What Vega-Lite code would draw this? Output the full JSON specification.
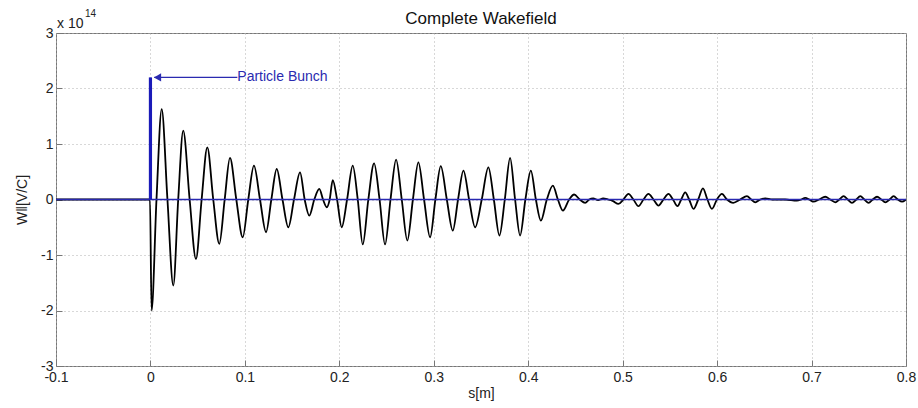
{
  "$schema": "https://vega.github.io/schema/vega-lite/v6.json",
  "autosize": {"type": "none"},
  "padding": {"left": 56, "top": 33, "right": 12, "bottom": 42},
  "width": 850,
  "height": 333,
  "background": "white",
  "config": {
    "font": "Liberation Sans",
    "view": {"stroke": "#777", "strokeWidth": 1},
    "axis": {
      "labelFont": "Liberation Sans",
      "titleFont": "Liberation Sans",
      "labelFontSize": 14,
      "titleFontSize": 14,
      "labelColor": "#222",
      "titleColor": "#222",
      "titleFontWeight": "normal",
      "domain": false,
      "tickColor": "#777",
      "tickSize": -6,
      "gridColor": "#b0b0b0",
      "gridDash": [1, 3],
      "gridWidth": 1,
      "labelOverlap": false,
      "labelBound": false,
      "labelFlush": false
    }
  },
  "title": {
    "text": "Complete Wakefield",
    "frame": "group",
    "anchor": "middle",
    "baseline": "alphabetic",
    "offset": 0,
    "dy": 32,
    "fontSize": 17,
    "fontWeight": "normal",
    "font": "Liberation Sans",
    "color": "#111"
  },
  "datasets": {
    "wake": [
      {"s": -0.1, "w": 0}, {"s": -0.0005, "w": 0}, {"s": 0.0012, "w": -2.0}, {"s": 0.0064, "w": 0},
      {"s": 0.0119, "w": 1.63}, {"s": 0.018, "w": 0}, {"s": 0.0242, "w": -1.55}, {"s": 0.0294, "w": 0},
      {"s": 0.0347, "w": 1.24}, {"s": 0.0415, "w": 0}, {"s": 0.0482, "w": -1.07}, {"s": 0.0542, "w": 0},
      {"s": 0.0602, "w": 0.94}, {"s": 0.0665, "w": 0}, {"s": 0.0729, "w": -0.8}, {"s": 0.0786, "w": 0},
      {"s": 0.0842, "w": 0.75}, {"s": 0.0909, "w": 0}, {"s": 0.0977, "w": -0.68}, {"s": 0.1036, "w": 0},
      {"s": 0.1096, "w": 0.61}, {"s": 0.116, "w": 0}, {"s": 0.1224, "w": -0.59}, {"s": 0.128, "w": 0},
      {"s": 0.1337, "w": 0.55}, {"s": 0.1398, "w": 0}, {"s": 0.146, "w": -0.5}, {"s": 0.152, "w": 0},
      {"s": 0.1584, "w": 0.49}, {"s": 0.1633, "w": 0}, {"s": 0.1682, "w": -0.29}, {"s": 0.1735, "w": 0},
      {"s": 0.1788, "w": 0.19}, {"s": 0.1827, "w": 0}, {"s": 0.1867, "w": -0.14}, {"s": 0.1898, "w": 0},
      {"s": 0.193, "w": 0.35}, {"s": 0.1976, "w": 0}, {"s": 0.2025, "w": -0.5}, {"s": 0.2082, "w": 0},
      {"s": 0.2142, "w": 0.61}, {"s": 0.2195, "w": 0}, {"s": 0.2248, "w": -0.81}, {"s": 0.2307, "w": 0},
      {"s": 0.2368, "w": 0.65}, {"s": 0.2426, "w": 0}, {"s": 0.2484, "w": -0.81}, {"s": 0.2542, "w": 0},
      {"s": 0.2601, "w": 0.72}, {"s": 0.2661, "w": 0}, {"s": 0.272, "w": -0.74}, {"s": 0.2779, "w": 0},
      {"s": 0.2837, "w": 0.67}, {"s": 0.2897, "w": 0}, {"s": 0.2961, "w": -0.68}, {"s": 0.3017, "w": 0},
      {"s": 0.3074, "w": 0.6}, {"s": 0.3138, "w": 0}, {"s": 0.3201, "w": -0.56}, {"s": 0.3257, "w": 0},
      {"s": 0.3314, "w": 0.52}, {"s": 0.3374, "w": 0}, {"s": 0.3438, "w": -0.5}, {"s": 0.3508, "w": 0},
      {"s": 0.3578, "w": 0.58}, {"s": 0.3636, "w": 0}, {"s": 0.3695, "w": -0.65}, {"s": 0.3752, "w": 0},
      {"s": 0.3808, "w": 0.75}, {"s": 0.3861, "w": 0}, {"s": 0.3914, "w": -0.65}, {"s": 0.397, "w": 0},
      {"s": 0.4028, "w": 0.52}, {"s": 0.4081, "w": 0}, {"s": 0.4134, "w": -0.38}, {"s": 0.4197, "w": 0},
      {"s": 0.4261, "w": 0.25}, {"s": 0.4314, "w": 0}, {"s": 0.4367, "w": -0.2}, {"s": 0.4433, "w": 0},
      {"s": 0.4486, "w": 0.09}, {"s": 0.4545, "w": 0}, {"s": 0.4603, "w": -0.06}, {"s": 0.4645, "w": 0},
      {"s": 0.4688, "w": 0.02}, {"s": 0.474, "w": -0.01}, {"s": 0.4793, "w": 0.02}, {"s": 0.4846, "w": 0},
      {"s": 0.4899, "w": -0.03}, {"s": 0.4955, "w": -0.08}, {"s": 0.5008, "w": 0}, {"s": 0.5061, "w": 0.1},
      {"s": 0.5114, "w": 0}, {"s": 0.5167, "w": -0.12}, {"s": 0.522, "w": 0}, {"s": 0.5273, "w": 0.1},
      {"s": 0.5326, "w": 0}, {"s": 0.5379, "w": -0.11}, {"s": 0.5432, "w": 0}, {"s": 0.5485, "w": 0.1},
      {"s": 0.5533, "w": 0}, {"s": 0.5581, "w": -0.12}, {"s": 0.562, "w": 0}, {"s": 0.5662, "w": 0.13},
      {"s": 0.5704, "w": 0}, {"s": 0.575, "w": -0.17}, {"s": 0.58, "w": 0}, {"s": 0.585, "w": 0.2},
      {"s": 0.5897, "w": 0}, {"s": 0.5945, "w": -0.17}, {"s": 0.5998, "w": 0}, {"s": 0.6051, "w": 0.1},
      {"s": 0.6104, "w": 0}, {"s": 0.6171, "w": -0.06}, {"s": 0.6245, "w": 0}, {"s": 0.6316, "w": 0.06},
      {"s": 0.6361, "w": 0}, {"s": 0.6404, "w": -0.05}, {"s": 0.6457, "w": 0}, {"s": 0.651, "w": 0.02},
      {"s": 0.6584, "w": 0}, {"s": 0.6721, "w": 0}, {"s": 0.6845, "w": -0.02}, {"s": 0.6891, "w": 0},
      {"s": 0.6933, "w": 0.03}, {"s": 0.6976, "w": 0}, {"s": 0.7018, "w": -0.04}, {"s": 0.7082, "w": 0},
      {"s": 0.7145, "w": 0.05}, {"s": 0.7198, "w": 0}, {"s": 0.7251, "w": -0.05}, {"s": 0.7294, "w": 0},
      {"s": 0.7339, "w": 0.06}, {"s": 0.7383, "w": 0}, {"s": 0.7428, "w": -0.06}, {"s": 0.7474, "w": 0},
      {"s": 0.7516, "w": 0.06}, {"s": 0.7559, "w": 0}, {"s": 0.7604, "w": -0.06}, {"s": 0.7648, "w": 0},
      {"s": 0.7693, "w": 0.05}, {"s": 0.7739, "w": 0}, {"s": 0.7781, "w": -0.05}, {"s": 0.7826, "w": 0},
      {"s": 0.7869, "w": 0.06}, {"s": 0.7914, "w": 0}, {"s": 0.7958, "w": -0.04}, {"s": 0.8, "w": 0}
    ],
    "zero": [{"z": 0}],
    "bunch": [{"s": 0, "w0": 0, "w1": 2.2}],
    "arrow": [{"s0": 0.004, "s1": 0.092, "w": 2.2}],
    "head": [{"s": 0.0075, "w": 2.2}],
    "label": [{"s": 0.092, "w": 2.2, "t": "Particle Bunch"}],
    "expo": [{"s": -0.1, "w": 3, "a": "x 10", "b": "14"}]
  },
  "layer": [
    {
      "data": {"name": "wake"},
      "mark": {"type": "line", "color": "#000000", "strokeWidth": 1.8, "interpolate": "monotone", "clip": true},
      "encoding": {
        "x": {
          "field": "s", "type": "quantitative",
          "scale": {"domain": [-0.1, 0.8], "nice": false, "zero": false},
          "axis": {
            "values": [-0.1, 0, 0.1, 0.2, 0.3, 0.4, 0.5, 0.6, 0.7, 0.8],
            "labelExpr": "'' + round(datum.value * 10) / 10",
            "title": "s[m]",
            "labelPadding": 10,
            "titlePadding": 2
          }
        },
        "y": {
          "field": "w", "type": "quantitative",
          "scale": {"domain": [-3, 3], "nice": false, "zero": false},
          "axis": {
            "values": [-3, -2, -1, 0, 1, 2, 3],
            "labelExpr": "'' + datum.value",
            "title": "W‖[V/C]",
            "labelPadding": 9,
            "titlePadding": 11
          }
        }
      }
    },
    {
      "data": {"name": "zero"},
      "mark": {"type": "rule", "color": "#2828b0", "strokeWidth": 1.5},
      "encoding": {"y": {"field": "z", "type": "quantitative"}}
    },
    {
      "data": {"name": "bunch"},
      "mark": {"type": "rule", "color": "#1a1ab8", "strokeWidth": 3.2},
      "encoding": {
        "x": {"field": "s", "type": "quantitative"},
        "y": {"field": "w0", "type": "quantitative"},
        "y2": {"field": "w1"}
      }
    },
    {
      "data": {"name": "arrow"},
      "mark": {"type": "rule", "color": "#2a2ab0", "strokeWidth": 1.3},
      "encoding": {
        "x": {"field": "s0", "type": "quantitative"},
        "x2": {"field": "s1"},
        "y": {"field": "w", "type": "quantitative"}
      }
    },
    {
      "data": {"name": "head"},
      "mark": {"type": "point", "shape": "triangle-left", "filled": true, "color": "#2a2ab0", "size": 70, "opacity": 1},
      "encoding": {
        "x": {"field": "s", "type": "quantitative"},
        "y": {"field": "w", "type": "quantitative"}
      }
    },
    {
      "data": {"name": "label"},
      "mark": {"type": "text", "align": "left", "baseline": "middle", "fontSize": 14, "color": "#2a2ab0", "font": "Liberation Sans"},
      "encoding": {
        "x": {"field": "s", "type": "quantitative"},
        "y": {"field": "w", "type": "quantitative"},
        "text": {"field": "t"}
      }
    },
    {
      "data": {"name": "expo"},
      "mark": {"type": "text", "align": "left", "baseline": "alphabetic", "fontSize": 14, "dx": 1, "dy": -5, "color": "#222", "font": "Liberation Sans"},
      "encoding": {
        "x": {"field": "s", "type": "quantitative"},
        "y": {"field": "w", "type": "quantitative"},
        "text": {"field": "a"}
      }
    },
    {
      "data": {"name": "expo"},
      "mark": {"type": "text", "align": "left", "baseline": "alphabetic", "fontSize": 10, "dx": 29, "dy": -16, "color": "#222", "font": "Liberation Sans"},
      "encoding": {
        "x": {"field": "s", "type": "quantitative"},
        "y": {"field": "w", "type": "quantitative"},
        "text": {"field": "b"}
      }
    }
  ]
}
